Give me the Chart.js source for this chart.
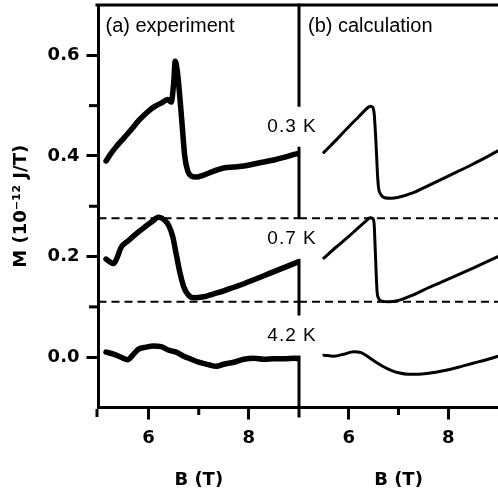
<!DOCTYPE html>
<html>
<head>
<meta charset="utf-8">
<script src="https://cdn.jsdelivr.net/npm/chart.js@4.4.1/dist/chart.umd.min.js"></script>
<style>
  body { margin: 0; background: #fff; }
</style>
</head>
<body>
<canvas id="chart" width="498" height="495"></canvas>
<script>
// DATA
const panel_titles = ['(a) experiment', '(b) calculation'];
const temperatures = ['0.3 K', '0.7 K', '4.2 K'];

// (a) experiment, B in T, M in 10^-12 J/T
const exp_03_B = [5.15, 5.25, 5.35, 5.5, 5.65, 5.8, 5.95, 6.1, 6.25, 6.38, 6.45, 6.5, 6.53, 6.57, 6.62, 6.67, 6.72, 6.78, 6.85, 6.95, 7.1, 7.3, 7.5, 7.7, 7.9, 8.1, 8.3, 8.5, 8.7, 8.9, 9.0];
const exp_03_M = [0.39, 0.405, 0.418, 0.435, 0.452, 0.47, 0.485, 0.497, 0.505, 0.512, 0.507, 0.545, 0.588, 0.57, 0.52, 0.46, 0.4, 0.37, 0.36, 0.358, 0.362, 0.37, 0.376, 0.378, 0.38, 0.384, 0.388, 0.392, 0.397, 0.403, 0.405];

const exp_07_B = [5.15, 5.22, 5.3, 5.38, 5.45, 5.6, 5.75, 5.9, 6.05, 6.2, 6.3, 6.4, 6.48, 6.55, 6.62, 6.7, 6.78, 6.9, 7.1, 7.3, 7.5, 7.7, 7.9, 8.1, 8.3, 8.5, 8.7, 8.9, 9.0];
const exp_07_M = [0.195, 0.19, 0.186, 0.2, 0.218, 0.232, 0.245, 0.257, 0.268, 0.278, 0.274, 0.262, 0.24, 0.205, 0.17, 0.14, 0.125, 0.118, 0.12, 0.126, 0.132, 0.139, 0.146, 0.154, 0.162, 0.17, 0.178, 0.186, 0.19];

const exp_42_B = [5.15, 5.3, 5.45, 5.58, 5.68, 5.8, 5.95, 6.1, 6.25, 6.4, 6.55, 6.7, 6.85, 7.0, 7.2, 7.35, 7.5, 7.7, 7.9, 8.1, 8.3, 8.5, 8.7, 8.9, 9.0];
const exp_42_M = [0.01, 0.006, 0.0, -0.005, 0.004, 0.016, 0.02, 0.022, 0.021, 0.014, 0.01, 0.002, -0.004, -0.01, -0.015, -0.018, -0.014, -0.01, -0.004, -0.002, -0.004, -0.003, -0.003, -0.002, -0.003];

// (b) calculation
const calc_03_B = [5.5, 5.75, 6.0, 6.2, 6.35, 6.43, 6.48, 6.51, 6.54, 6.56, 6.58, 6.6, 6.64, 6.72, 6.85, 7.0, 7.3, 7.6, 8.0, 8.5, 9.0];
const calc_03_M = [0.407, 0.432, 0.458, 0.478, 0.493, 0.499, 0.497, 0.485, 0.44, 0.4, 0.36, 0.336, 0.324, 0.317, 0.316, 0.318, 0.327, 0.341, 0.36, 0.384, 0.41];

const calc_07_B = [5.5, 5.75, 6.0, 6.2, 6.35, 6.43, 6.48, 6.51, 6.53, 6.55, 6.57, 6.6, 6.65, 6.8, 7.0, 7.3, 7.6, 8.0, 8.5, 9.0];
const calc_07_M = [0.197, 0.219, 0.24, 0.258, 0.271, 0.277, 0.276, 0.265, 0.22, 0.17, 0.13, 0.117, 0.112, 0.11, 0.113, 0.124, 0.138, 0.155, 0.177, 0.2];

const calc_42_B = [5.5, 5.7, 5.9, 6.1, 6.25, 6.4, 6.55, 6.7, 6.85, 7.0, 7.2, 7.4, 7.6, 7.9, 8.2, 8.5, 8.8, 9.0];
const calc_42_M = [0.004, 0.002, 0.006, 0.011, 0.009, 0.0, -0.01, -0.019, -0.026, -0.031, -0.034, -0.034, -0.032, -0.027, -0.02, -0.012, -0.004, 0.002];

// dashed guide levels (drawn across both panels)
const dashed_levels = [0.276, 0.11];

// ticks
const x_ticks = [5, 6, 7, 8, 9];
const y_ticks = [-0.1, 0, 0.1, 0.2, 0.3, 0.4, 0.5, 0.6, 0.7];

// CHART
const ctx = document.getElementById('chart').getContext('2d');
const FONT = '"Liberation Sans", Arial, Helvetica, sans-serif';
const BOLD_FONT = '"DejaVu Sans", "Liberation Sans", sans-serif';
const bold_font = { family: BOLD_FONT, size: 18, weight: 'bold' };

function toPoints(bs, ms) {
  return bs.map((b, i) => ({ x: b, y: ms[i] }));
}

function curve(bs, ms, axis, width) {
  return {
    data: toPoints(bs, ms),
    xAxisID: axis,
    borderColor: '#000',
    borderWidth: width,
    borderCapStyle: 'round',
    borderJoinStyle: 'round',
    pointRadius: 0,
    cubicInterpolationMode: 'monotone',
    fill: false,
  };
}

function dashed(level, axis) {
  return {
    data: [{ x: 5, y: level }, { x: 9, y: level }],
    xAxisID: axis,
    borderColor: '#000',
    borderWidth: 2,
    borderDash: [8, 5],
    pointRadius: 0,
    fill: false,
  };
}

function isMajor(v) {
  return Math.round(v * 10) % 2 === 0;
}

function xScale(weight) {
  return {
    type: 'linear',
    position: 'bottom',
    stack: 'bottom',
    stackWeight: weight,
    min: 5,
    max: 9,
    afterBuildTicks: s => { s.ticks = x_ticks.map(v => ({ value: v })); },
    afterFit: s => { s.height = 87.5; s.paddingLeft = 0; s.paddingRight = 0; },
    ticks: {
      autoSkip: false, maxRotation: 0, minRotation: 0, padding: 8,
      color: '#000', font: bold_font,
      callback: v => (v === 6 || v === 8) ? String(v) : null,
    },
    grid: {
      drawOnChartArea: false, tickLength: 12, tickWidth: 3,
      tickColor: c => (c.tick && c.tick.value % 2 === 0) ? '#000' : 'rgba(0,0,0,0)',
    },
    border: { color: '#000', width: 3 },
    title: { display: true, text: 'B (T)', color: '#000', font: bold_font, padding: { top: 0, bottom: 4 } },
  };
}

// frame, divider, minor ticks and in-plot texts
const frame_plugin = {
  id: 'frame',
  afterDraw(chart) {
    const { ctx, chartArea: area, scales } = chart;
    const xa = scales.xa, xb = scales.xb, y = scales.y;
    const label_at = [0.458, 0.235, 0.043];
    const line = (x0, y0, x1, y1) => {
      ctx.beginPath(); ctx.moveTo(x0, y0); ctx.lineTo(x1, y1); ctx.stroke();
    };
    ctx.save();
    ctx.strokeStyle = '#000';
    ctx.fillStyle = '#000';
    ctx.lineWidth = 3;
    line(area.left - 3, area.top, area.right, area.top);

    // divider, broken around the temperature labels
    const div_x = xa.getPixelForValue(9);
    let top = area.top - 1.5;
    label_at.forEach(v => {
      const py = y.getPixelForValue(v);
      line(div_x, top, div_x, py - 20);
      top = py + 20;
    });
    line(div_x, top, div_x, area.bottom + 10);

    // minor ticks
    const axis_y = area.bottom + 1.5;
    const axis_x = area.left - 1.5;
    y_ticks.filter(v => !isMajor(v) && v > -0.1 && v < 0.7).forEach(v => {
      const py = y.getPixelForValue(v);
      line(axis_x - 8, py, axis_x, py);
    });
    [xa, xb].forEach(s => {
      x_ticks.filter(v => v % 2 === 1 && v > 5 && v < 9).forEach(v => {
        const px = s.getPixelForValue(v);
        line(px, axis_y, px, axis_y + 6);
      });
    });
    line(axis_x, axis_y, axis_x, axis_y + 8);

    // temperature labels
    ctx.font = '19px ' + FONT;
    ctx.letterSpacing = '1px';
    ctx.textAlign = 'center';
    ctx.textBaseline = 'middle';
    temperatures.forEach((t, i) => ctx.fillText(t, div_x - 7, y.getPixelForValue(label_at[i])));

    // panel titles
    ctx.font = '20px ' + FONT;
    ctx.letterSpacing = '0px';
    ctx.textAlign = 'left';
    ctx.fillText(panel_titles[0], xa.left + 7, area.top + 21);
    ctx.fillText(panel_titles[1], xb.left + 9, area.top + 21);
    ctx.restore();
  },
};

const datasets = [
  dashed(dashed_levels[0], 'xa'), dashed(dashed_levels[0], 'xb'),
  dashed(dashed_levels[1], 'xa'), dashed(dashed_levels[1], 'xb'),
  curve(exp_03_B, exp_03_M, 'xa', 5.5),
  curve(exp_07_B, exp_07_M, 'xa', 5.5),
  curve(exp_42_B, exp_42_M, 'xa', 5.5),
  curve(calc_03_B, calc_03_M, 'xb', 3),
  curve(calc_07_B, calc_07_M, 'xb', 3),
  curve(calc_42_B, calc_42_M, 'xb', 3),
];

new Chart(ctx, {
  type: 'line',
  data: { datasets: datasets },
  options: {
    responsive: false,
    animation: false,
    events: [],
    layout: { padding: { top: 5, left: 0, right: 0, bottom: 0 } },
    plugins: { legend: { display: false }, tooltip: { enabled: false } },
    scales: {
      xa: xScale(200.5),
      xb: xScale(199),
      y: {
        type: 'linear',
        position: 'left',
        min: -0.1,
        max: 0.7,
        afterBuildTicks: s => { s.ticks = y_ticks.map(v => ({ value: v })); },
        afterFit: s => { s.width = 98.5; s.paddingTop = 0; s.paddingBottom = 0; },
        ticks: {
          padding: 7, color: '#000', font: bold_font,
          callback: v => (isMajor(v) && v > -0.05 && v < 0.65) ? v.toFixed(1) : null,
        },
        grid: {
          drawOnChartArea: false, tickLength: 12, tickWidth: 3,
          tickColor: c => (c.tick && isMajor(c.tick.value)) ? '#000' : 'rgba(0,0,0,0)',
        },
        border: { color: '#000', width: 3 },
        title: { display: true, text: 'M (10⁻¹² J/T)', color: '#000', font: bold_font, padding: { top: 11, bottom: 0 } },
      },
    },
  },
  plugins: [frame_plugin],
});
</script>
</body>
</html>
